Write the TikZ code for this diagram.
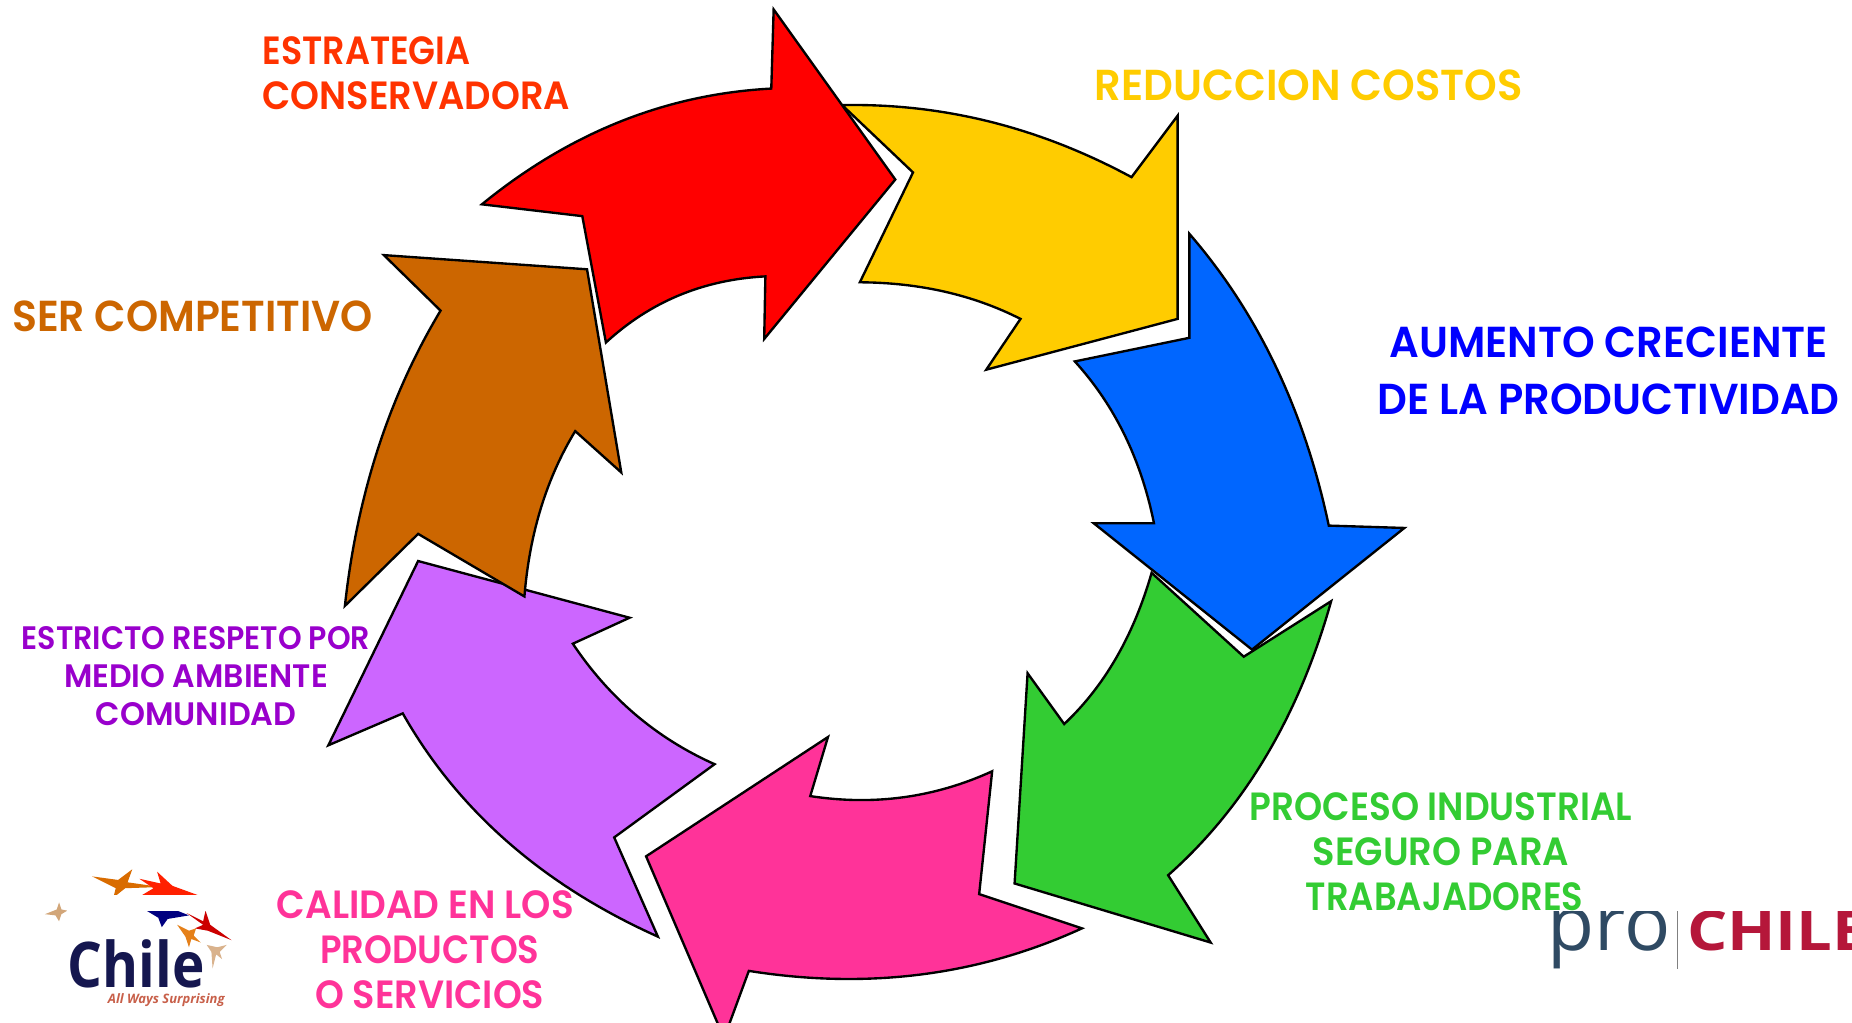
\documentclass[tikz,border=0pt]{standalone}
\usepackage{fontspec}
\setmainfont[BoldFont={Poppins SemiBold}]{Poppins}
\newfontfamily\logofont{Open Sans}
\definecolor{cRed}{HTML}{FF0000}
\definecolor{cYel}{HTML}{FFCC00}
\definecolor{cBlu}{HTML}{0066FF}
\definecolor{cGrn}{HTML}{33CC33}
\definecolor{cPnk}{HTML}{FF3399}
\definecolor{cPur}{HTML}{CC66FF}
\definecolor{cBrn}{HTML}{CC6600}
\definecolor{tOra}{HTML}{FF3300}
\definecolor{tPur}{HTML}{9900CC}
\definecolor{tBlu}{HTML}{0000FF}
\definecolor{logoNavy}{HTML}{15174F}
\definecolor{logoTag}{HTML}{C8604A}
\definecolor{proSlate}{HTML}{2F4A63}
\definecolor{proRed}{HTML}{B5173A}
\tikzset{
  arrowshape/.style={draw=black,line width=1.2pt,miter limit=10,line join=miter},
  lab/.style n args={3}{font=\bfseries\fontsize{#1}{#2}\selectfont,align=center,inner sep=0pt,transform shape,xscale=#3},
  star4/.style={fill=#1,draw=none},
}
\begin{document}
\begin{tikzpicture}[x=0.6pt,y=-0.6pt]
\useasboundingbox (0,0) rectangle (1568,866);
\clip (0,0) rectangle (1568,866);
\fill[white] (0,0) rectangle (1568,866);
% arrows
\draw[arrowshape,fill=cYel] (713,89) .. controls (798,87.3) and (879.7,107.7) .. (958,150) -- (997,98) -- (997,270) -- (835,313) -- (864,270) .. controls (824,249.7) and (778.7,239.3) .. (728,239) -- (773,146) -- cycle;
\draw[arrowshape,fill=cRed] (408,173) .. controls (482.3,112.3) and (564,79.7) .. (653,75) -- (655,8) -- (758,152) -- (647,287) -- (648,234) .. controls (595.7,236.7) and (550.7,255.3) .. (513,290) -- (493,183) -- cycle;
\draw[arrowshape,fill=cGrn] (975,485) -- (1053,556) -- (1127,509) .. controls (1099.7,606.3) and (1053.7,683.7) .. (989,741) -- (1025,798) -- (859,748) -- (870,570) -- (901,613) .. controls (935,581) and (959.7,538.3) .. (975,485) -- cycle;
\draw[arrowshape,fill=cBlu] (1007,198) .. controls (1065,265) and (1104.3,347.3) .. (1125,445) -- (1189,447) -- (1060,550) -- (926,443) -- (977,443) .. controls (966,388.7) and (943.7,343) .. (910,306) -- (1007,286) -- cycle;
\draw[arrowshape,fill=cPnk] (840,653) .. controls (791.3,675.3) and (740,682.3) .. (686,674) -- (701,624) -- (547,725) -- (613,879) -- (634,822) .. controls (734.7,838) and (828.7,826) .. (916,786) -- (829,757) -- cycle;
\draw[arrowshape,fill=cPur] (605,647) -- (520,709) -- (557,793) .. controls (459.7,749.3) and (387.7,686.3) .. (341,604) -- (278,631) -- (354,475) -- (533,523) -- (485,545) .. controls (515.7,591) and (555.7,625) .. (605,647) -- cycle;
\draw[arrowshape,fill=cBrn] (325,216) -- (497,228) -- (526,400) -- (487,365) .. controls (462.7,405) and (448.3,451.7) .. (444,505) -- (354,452) -- (292,513) .. controls (302.3,419) and (329.3,335.7) .. (373,263) -- cycle;
% Chile logo stars
\fill[star4={orange!85!black}] (78,742) -- (100,745) -- (112,736) -- (108,747) -- (136,751) -- (106,752) -- (96,760) -- (98,752) -- cycle;
\fill[star4={red!75!orange}] (118,744) -- (136,748) -- (133,738) -- (146,750) -- (168,758) -- (120,758) -- (130,752) -- cycle;
\fill[star4={brown!70!white}] (38,774) -- (48,770) -- (50,764) -- (52,770) -- (57,771) -- (52,774) -- (50,780) -- (47,775) -- cycle;
\fill[star4={blue!50!black}] (124,771) -- (150,771) -- (160,775) -- (142,778) -- (137,785) -- (134,777) -- cycle;
\fill[star4={red!80!black}] (158,773) -- (172,780) -- (174,771) -- (178,783) -- (196,796) -- (176,788) -- (165,786) -- (172,783) -- cycle;
\fill[star4={orange!60!brown}] (150,783) -- (160,788) -- (166,786) -- (164,792) -- (170,798) -- (162,795) -- (160,802) -- (157,793) -- cycle;
\fill[star4={brown!60!white}] (175,800) -- (184,802) -- (192,800) -- (186,806) -- (188,812) -- (183,808) -- (180,820) -- (179,806) -- cycle;
\fill[white] (57,758) rectangle (203,771);
\node[anchor=base west,inner sep=0pt,text=logoNavy,transform shape,xscale=0.87,font=\logofont\bfseries\fontsize{32}{32}\selectfont] (chile) at (57,836) {Chile};
\node[anchor=base west,inner sep=0pt,text=logoTag,font=\logofont\bfseries\itshape\fontsize{6.6}{7}\selectfont] (tagline) at (91,850) {All Ways Surprising};
% ProChile logo
\node[anchor=base west,inner sep=0pt,text=proSlate,font=\logofont\fontsize{39}{39}\selectfont] (pro) at (1310,805) {pro};
\node[anchor=base west,inner sep=0pt,text=proRed,transform shape,xscale=1.15,font=\logofont\bfseries\fontsize{28}{28}\selectfont] (chile2) at (1428,805) {CHILE};
\coordinate (bartop) at (1420,771);
\coordinate (barbot) at (1420,820);
\draw[gray,line width=0.6pt] (bartop) -- (barbot);
\fill[white] (1300,745) rectangle (1568,771);
% labels
\node[lab={20}{22.8}{0.935},text=tOra,align=left,anchor=west] (estrategia) at (222,62) {\scalebox{0.95}[1]{ESTRATEGIA}\\CONSERVADORA};
\node[lab={22}{26}{0.96},text=cYel] (reduccion) at (1108,72) {REDUCCION COSTOS};
\node[lab={22}{28.8}{0.96},text=tBlu] (aumento) at (1362,314) {AUMENTO CRECIENTE\\DE LA PRODUCTIVIDAD};
\node[lab={20}{22.8}{0.91},text=cGrn] (proceso) at (1220,721) {PROCESO INDUSTRIAL\\\scalebox{1.03}[1]{SEGURO PARA}\\\hspace{4pt}\scalebox{0.985}[1]{TRABAJADORES}};
\node[lab={20}{22.8}{0.947},text=cPnk] (calidad) at (360,804) {CALIDAD EN LOS\\\hspace{5pt}\scalebox{0.95}[1]{PRODUCTOS}\\\hspace{5pt}\scalebox{0.985}[1]{O SERVICIOS}};
\node[lab={16.5}{19.2}{0.928},text=tPur] (estricto) at (166,572.5) {ESTRICTO RESPETO POR\\\scalebox{1.047}[1]{MEDIO AMBIENTE}\\\scalebox{1.055}[1]{COMUNIDAD}};
\node[lab={22}{26}{0.945},text=cBrn] (ser) at (163,268) {SER COMPETITIVO};
\end{tikzpicture}
\end{document}
